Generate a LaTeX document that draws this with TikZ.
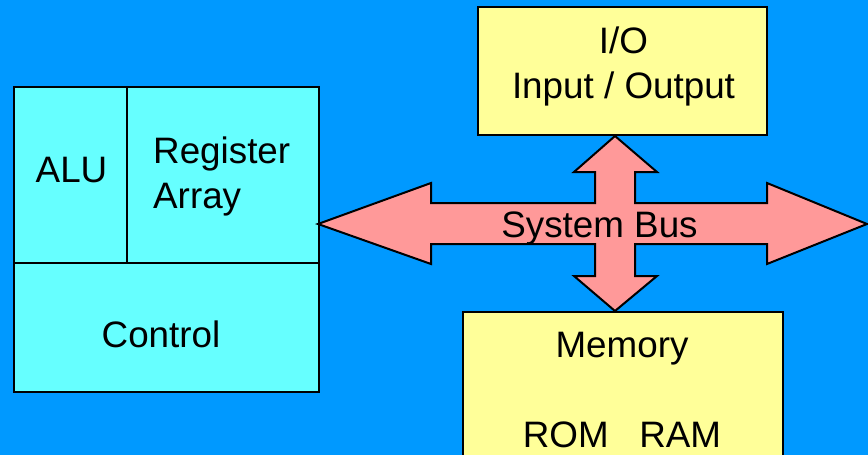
\documentclass[tikz,border=0pt]{standalone}
\usepackage{fontspec}
\setmainfont{Liberation Sans}
\usetikzlibrary{positioning}
\definecolor{slideblue}{RGB}{0,153,255}
\definecolor{cpucyan}{RGB}{102,255,255}
\definecolor{unityellow}{RGB}{255,255,153}
\definecolor{buspink}{RGB}{255,153,153}
\tikzset{
  cpubox/.style={
    rectangle,
    draw,
    fill=cpucyan,
    line width=2pt,
    inner sep=0pt,
    outer sep=0pt
  },
  unitbox/.style={
    rectangle,
    draw,
    fill=unityellow,
    line width=2pt,
    inner sep=0pt,
    outer sep=0pt
  },
  busarrow/.style={
    draw,
    fill=buspink,
    line width=2pt,
    line join=miter
  },
  txt/.style={
    inner sep=0pt,
    font=\fontsize{36.8pt}{45pt}\selectfont
  }
}

\begin{document}
\begin{tikzpicture}[x=1pt, y=-1pt]
        % Background
        \clip (0,0) rectangle (868,455);
        \fill[slideblue] (0,0) rectangle (868,455);

        % CPU blocks
        \node[cpubox, minimum width=113pt, minimum height=176pt] (alu) at (70.5,175) {};
        \node[cpubox, minimum width=192pt, minimum height=176pt] (reg) [right=0pt of alu] {};
        \node[cpubox, minimum width=305pt, minimum height=129pt] (ctrl) [below=0pt of alu.south west, anchor=north west] {};

        % I/O and memory
        \node[unitbox, minimum width=289pt, minimum height=128pt] (io)  at (622.5,71) {};
        \node[unitbox, minimum width=320pt, minimum height=170pt] (mem) at (623,397) {};

        % System bus
        \path[busarrow] (318,224) -- (431,183) -- (431,203) -- (595,203) -- (595,172)
            -- (574,172) -- (615,136) -- (657,172) -- (635,172) -- (635,203)
            -- (767,203) -- (767,183) -- (867,224) -- (767,264) -- (767,244)
            -- (635,244) -- (635,276) -- (657,276) -- (615,311) -- (574,276)
            -- (595,276) -- (595,244) -- (431,244) -- (431,264) -- cycle;

        % Texts
        \node[txt, anchor=base] (alutxt) at (71.5,182) {ALU};
        \node[txt, anchor=west, align=left] (regtxt) at (153,176) {Register\\Array};
        \node[txt, anchor=base] (ctrltxt) at (161,347) {Control};
        \node[txt, align=center] (iotxt) at (623.5,66) {I/O\\Input / Output};
        \node[txt, anchor=base] (memtxt) at (622,357) {Memory};
        \node[txt, anchor=base] (romtxt) at (622,447) {ROM\ \ \ RAM};
        \node[txt, anchor=base] (bustxt) at (599.5,237) {System Bus};
\end{tikzpicture}
\end{document}
